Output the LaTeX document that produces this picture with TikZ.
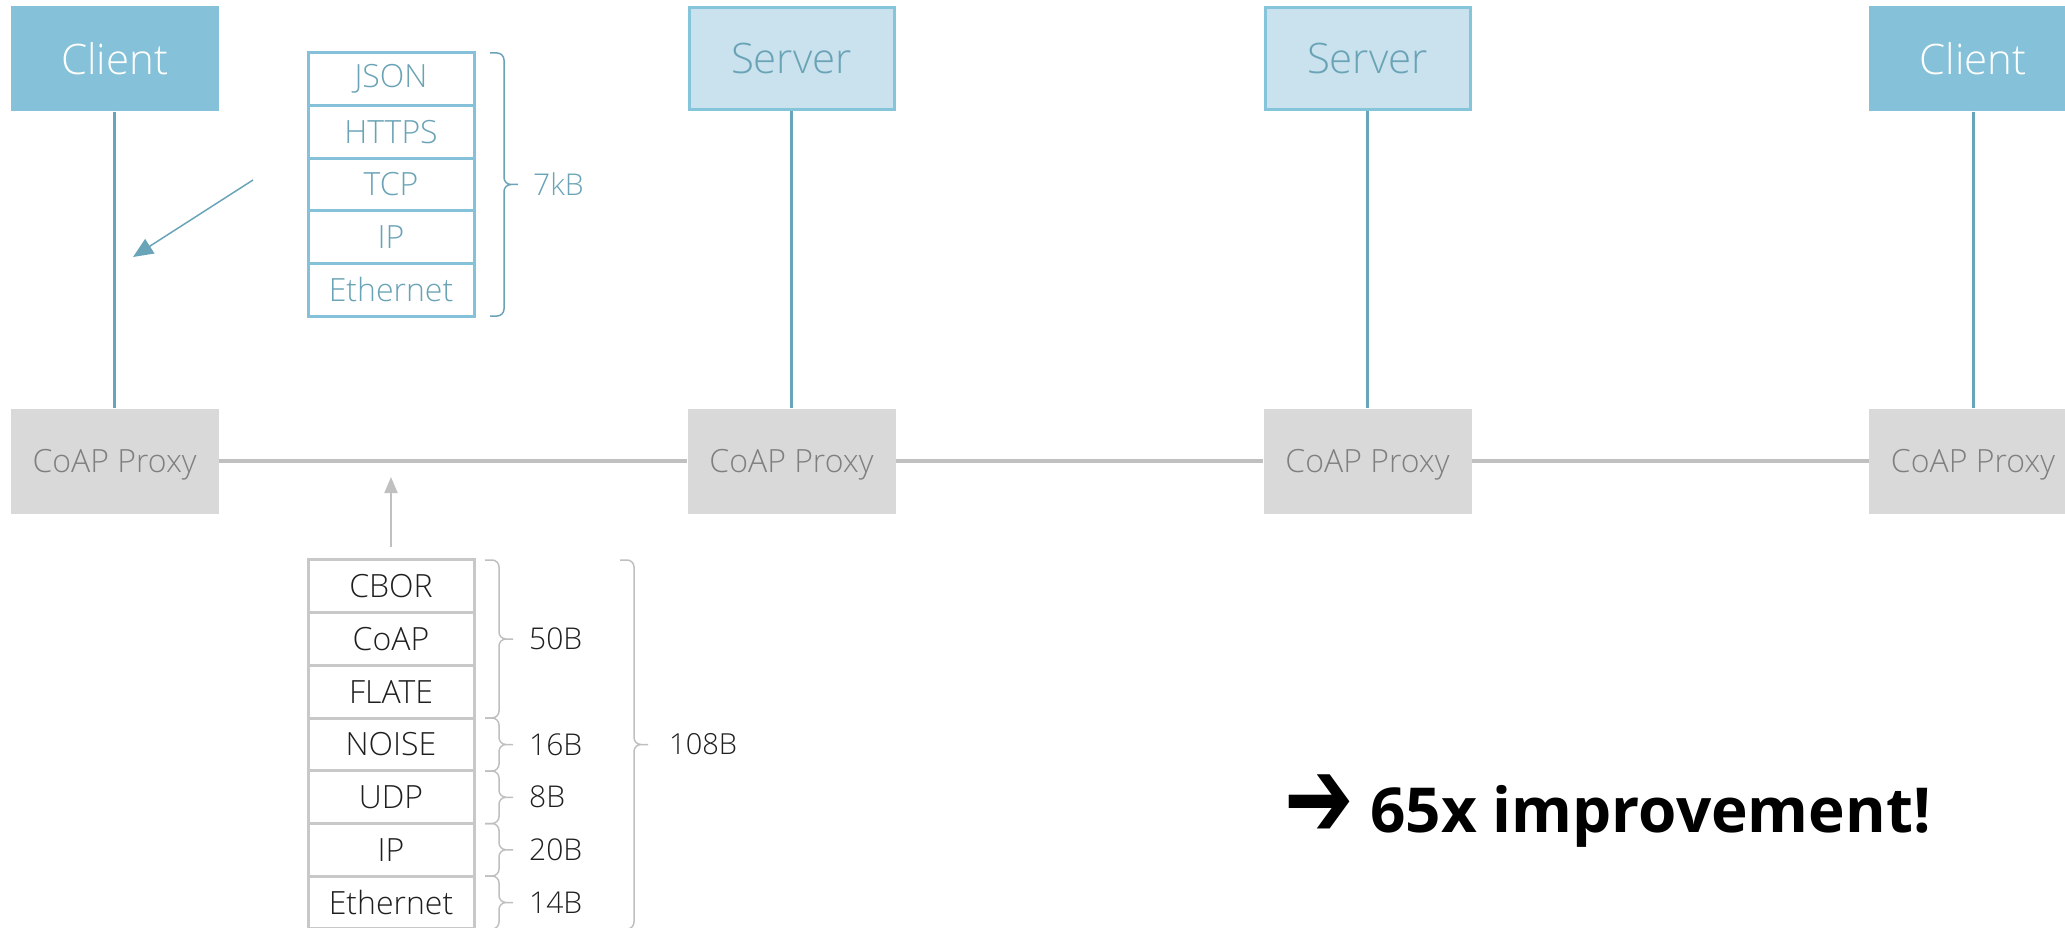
\documentclass[tikz,border=0pt]{standalone}
\usepackage{fontspec}
\IfFontExistsTF{Open Sans Light}{\setmainfont{Open Sans Light}}{\setmainfont{Open Sans}}
\newfontfamily\strongfont{Open Sans}
\newfontfamily\symfont{DejaVu Sans}
\usetikzlibrary{arrows.meta}

\definecolor{clientfill}{HTML}{85C2D9}
\definecolor{serverfill}{HTML}{C9E2EE}
\definecolor{serverdraw}{HTML}{85C5DA}
\definecolor{servertext}{HTML}{6AA3B6}
\definecolor{linkblue}{HTML}{6AA4B8}
\definecolor{proxyfill}{HTML}{D9D9D9}
\definecolor{proxytext}{HTML}{7F7F7F}
\definecolor{wiregray}{HTML}{C0C0C0}
\definecolor{stackgray}{HTML}{C8C8C8}
\definecolor{bracegray}{HTML}{BFBFBF}
\definecolor{textdark}{HTML}{1F1F1F}

\tikzset{
  client/.style={fill=clientfill, minimum width=208pt, minimum height=105pt,
    inner sep=0pt, text=white, font=\fontsize{42}{50}\selectfont},
  server/.style={fill=serverfill, draw=serverdraw, line width=3pt,
    minimum width=205pt, minimum height=102pt, inner sep=0pt,
    text=servertext, font=\fontsize{42}{50}\selectfont},
  proxy/.style={fill=proxyfill, minimum width=208pt, minimum height=105pt,
    inner sep=0pt, text depth=0pt, text=proxytext, font=\fontsize{32}{38}\selectfont},
  uplink/.style={draw=linkblue, line width=3pt},
  wire/.style={draw=wiregray, line width=4pt},
  httplayer/.style={draw=clientfill, line width=3pt, minimum width=166pt,
    minimum height=52.7pt, inner sep=0pt, text=servertext,
    font=\fontsize{32}{38}\selectfont},
  coaplayer/.style={draw=stackgray, line width=3pt, minimum width=166pt,
    minimum height=52.7pt, inner sep=0pt, text=textdark,
    font=\fontsize{32}{38}\selectfont},
  bracestroke/.style={line width=1.5pt, rounded corners=7pt},
  sizelabel/.style={anchor=west, inner sep=0pt, font=\fontsize{30}{36}\selectfont},
}

% right-facing curly bracket: #1 = left x, #2 = top y, #3 = bottom y, #4 = colour
\newcommand\sizebracket[4]{%
  \draw[bracestroke, draw=#4]
    (#1,#2) -- ({#1+14},#2) -- ({#1+14},{(#2+#3)/2}) -- ({#1+28},{(#2+#3)/2})
    (#1,#3) -- ({#1+14},#3) -- ({#1+14},{(#2+#3)/2}) -- ({#1+28},{(#2+#3)/2});
}

\begin{document}
\begin{tikzpicture}[x=1pt, y=-1pt]
\useasboundingbox (0,0) rectangle (2065,928);

% endpoints
\node[client] (cl1) at (114.6,59) {Client};
\node[server] (sv1) at (791.5,59) {Server};
\node[server] (sv2) at (1367.5,59) {Server};
\node[client] (cl2) at (1973,59) {Client};

% proxies
\node[proxy] (px1) at (114.6,461) {CoAP Proxy};
\node[proxy] (px2) at (791.5,461) {CoAP Proxy};
\node[proxy] (px3) at (1367.5,461) {CoAP Proxy};
\node[proxy] (px4) at (1973,461) {CoAP Proxy};

% access links
\draw[uplink] (cl1) -- (px1);
\draw[uplink] (sv1) -- (px2);
\draw[uplink] (sv2) -- (px3);
\draw[uplink] (cl2) -- (px4);

% proxy-to-proxy links
\draw[wire] (px1) -- (px2);
\draw[wire] (px2) -- (px3);
\draw[wire] (px3) -- (px4);

% HTTP stack
\node[httplayer] (h1) at (391,79.0) {JSON};
\node[httplayer] (h2) at (391,131.7) {HTTPS};
\node[httplayer] (h3) at (391,184.4) {TCP};
\node[httplayer] (h4) at (391,237.1) {IP};
\node[httplayer] (h5) at (391,289.8) {Ethernet};
\sizebracket{490}{53}{316}{servertext}
\node[sizelabel, text=servertext] (hsize) at (533,184.5) {7kB};

\coordinate (ha1) at (253,180);
\coordinate (ha2) at (133,257);
\draw[draw=linkblue, line width=1.5pt, -{Triangle[length=20pt, width=17pt]}] (ha1) -- (ha2);

% CoAP stack
\node[coaplayer] (c1) at (391,586.3) {CBOR};
\node[coaplayer] (c2) at (391,639.0) {CoAP};
\node[coaplayer] (c3) at (391,691.7) {FLATE};
\node[coaplayer] (c4) at (391,744.4) {NOISE};
\node[coaplayer] (c5) at (391,797.1) {UDP};
\node[coaplayer] (c6) at (391,849.8) {IP};
\node[coaplayer] (c7) at (391,902.5) {Ethernet};

\sizebracket{485}{560}{718}{bracegray}
\sizebracket{485}{718}{771}{bracegray}
\sizebracket{485}{771}{823.5}{bracegray}
\sizebracket{485}{823.5}{876}{bracegray}
\sizebracket{485}{876}{929}{bracegray}
\node[sizelabel, text=textdark] (s1) at (529,639) {50B};
\node[sizelabel, text=textdark] (s2) at (529,744.5) {16B};
\node[sizelabel, text=textdark] (s3) at (529,797) {8B};
\node[sizelabel, text=textdark] (s4) at (529,850) {20B};
\node[sizelabel, text=textdark] (s5) at (529,902.5) {14B};

\sizebracket{620}{560}{929}{bracegray}
\node[sizelabel, text=textdark, font=\fontsize{29}{35}\selectfont] (stot) at (669,744.5) {108B};

\coordinate (ga1) at (391,547);
\coordinate (ga2) at (391,477);
\draw[draw=wiregray, line width=2pt, -{Triangle[length=16pt, width=13pt]}] (ga1) -- (ga2);

% result
\node[inner sep=0pt] (gainmark) at (1319,806)
  {\symfont\fontsize{58}{64}\selectfont\scalebox{1.43}[1.96]{➔}};
\node[anchor=base west, inner sep=0pt,
  font=\strongfont\bfseries\fontsize{62}{70}\selectfont] (gain) at (1370,832)
  {65x improvement!};
\end{tikzpicture}
\end{document}
